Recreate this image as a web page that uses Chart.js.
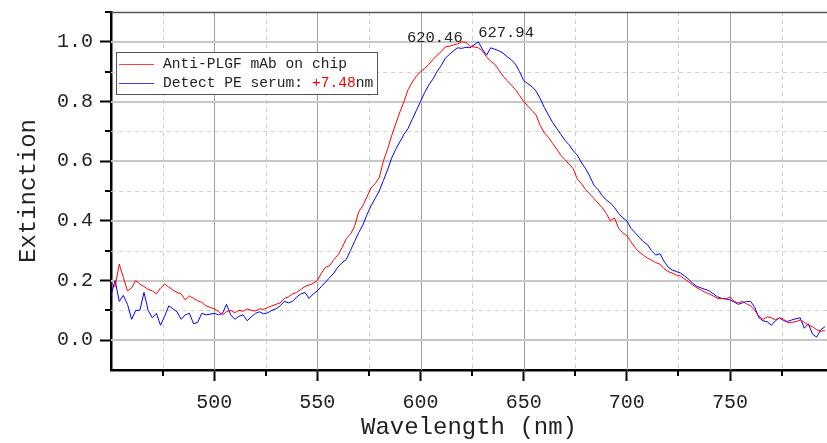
<!DOCTYPE html>
<html>
<head>
<meta charset="utf-8">
<script src="https://cdn.jsdelivr.net/npm/chart.js@4.4.1/dist/chart.umd.min.js"></script>
<style>
  html, body { margin: 0; padding: 0; background: #fff; }
  #wrap { width: 827px; height: 443px; }
</style>
</head>
<body>
<div id="wrap"><canvas id="chart"></canvas></div>
<script>
// wavelength grid (nm)
const wavelengths = [
  450, 452, 454, 456, 458, 460, 462, 464, 466, 468,
  470, 472, 474, 476, 478, 480, 482, 484, 486, 488,
  490, 492, 494, 496, 498, 500, 502, 504, 506, 508,
  510, 512, 514, 516, 518, 520, 522, 524, 526, 528,
  530, 532, 534, 536, 538, 540, 542, 544, 546, 548,
  550, 552, 554, 556, 558, 560, 562, 564, 566, 568,
  570, 572, 574, 576, 578, 580, 582, 584, 586, 588,
  590, 592, 594, 596, 598, 600, 602, 604, 606, 608,
  610, 612, 614, 616, 618, 620, 622, 624, 626, 628,
  630, 632, 634, 636, 638, 640, 642, 644, 646, 648,
  650, 652, 654, 656, 658, 660, 662, 664, 666, 668,
  670, 672, 674, 676, 678, 680, 682, 684, 686, 688,
  690, 692, 694, 696, 698, 700, 702, 704, 706, 708,
  710, 712, 714, 716, 718, 720, 722, 724, 726, 728,
  730, 732, 734, 736, 738, 740, 742, 744, 746, 748,
  750, 752, 754, 756, 758, 760, 762, 764, 766, 768,
  770, 772, 774, 776, 778, 780, 782, 784, 786, 788,
  790, 792, 794, 796
];

// Anti-PLGF mAb on chip (red)
const chipExtinction = [
  0.19, 0.18, 0.255, 0.21, 0.165, 0.175, 0.2, 0.188, 0.18, 0.17,
  0.165, 0.155, 0.175, 0.188, 0.178, 0.168, 0.16, 0.155, 0.135, 0.148,
  0.14, 0.132, 0.127, 0.115, 0.11, 0.105, 0.097, 0.085, 0.095, 0.1,
  0.092, 0.1, 0.097, 0.105, 0.1, 0.098, 0.105, 0.103, 0.11, 0.115,
  0.12, 0.125, 0.14, 0.145, 0.155, 0.16, 0.17, 0.18, 0.185, 0.19,
  0.2, 0.225, 0.245, 0.25, 0.27, 0.285, 0.31, 0.34, 0.355, 0.38,
  0.43, 0.45, 0.48, 0.51, 0.525, 0.545, 0.6, 0.64, 0.685, 0.725,
  0.765, 0.8, 0.84, 0.865, 0.885, 0.9, 0.91, 0.925, 0.94, 0.955,
  0.967, 0.983, 0.985, 0.99, 0.993, 1.0, 0.998, 0.985, 0.983, 0.98,
  0.97, 0.95, 0.935, 0.925, 0.905, 0.885, 0.87, 0.855, 0.84, 0.82,
  0.8, 0.785, 0.77, 0.755, 0.72, 0.695, 0.68, 0.66, 0.64, 0.62,
  0.605, 0.59, 0.575, 0.54, 0.525, 0.505, 0.49, 0.475, 0.46, 0.445,
  0.425, 0.4, 0.41, 0.375, 0.36, 0.35, 0.33, 0.31, 0.295, 0.285,
  0.275, 0.268, 0.26, 0.255, 0.24, 0.23, 0.225, 0.218, 0.215, 0.205,
  0.195, 0.185, 0.175, 0.168, 0.16, 0.155, 0.148, 0.14, 0.14, 0.138,
  0.145, 0.13, 0.125, 0.13, 0.122, 0.115, 0.1, 0.08, 0.07, 0.078,
  0.075, 0.068, 0.075, 0.07, 0.058, 0.06, 0.062, 0.068, 0.06, 0.05,
  0.045, 0.035, 0.03, 0.032
];

// Detect PE serum (blue)
const serumExtinction = [
  0.15, 0.2, 0.13, 0.15, 0.12, 0.07, 0.1, 0.1, 0.16, 0.1,
  0.075, 0.09, 0.05, 0.08, 0.115, 0.105, 0.095, 0.07, 0.085, 0.09,
  0.055, 0.06, 0.09, 0.085, 0.087, 0.09, 0.085, 0.09, 0.12, 0.085,
  0.07, 0.08, 0.085, 0.065, 0.078, 0.09, 0.095, 0.088, 0.092, 0.1,
  0.105, 0.115, 0.13, 0.125, 0.13, 0.145, 0.155, 0.16, 0.14, 0.155,
  0.165, 0.18, 0.195, 0.21, 0.225, 0.245, 0.26, 0.27, 0.3, 0.33,
  0.36, 0.385, 0.42, 0.45, 0.475, 0.5, 0.535, 0.57, 0.61, 0.64,
  0.665, 0.69, 0.71, 0.74, 0.77, 0.8, 0.83, 0.855, 0.875, 0.9,
  0.92, 0.945, 0.958, 0.97, 0.98, 0.978, 0.982, 0.98, 0.99, 1.0,
  0.975, 0.955, 0.98, 0.975, 0.97, 0.962, 0.95, 0.94, 0.925, 0.9,
  0.87, 0.86, 0.85, 0.835, 0.81, 0.78, 0.755, 0.73, 0.71, 0.69,
  0.67, 0.655, 0.635, 0.62, 0.595, 0.575, 0.55, 0.52, 0.505, 0.485,
  0.47, 0.46, 0.445, 0.425, 0.41, 0.4, 0.375, 0.36, 0.345, 0.33,
  0.32, 0.3, 0.285, 0.29, 0.265, 0.245, 0.235, 0.23, 0.225, 0.215,
  0.204, 0.19, 0.18, 0.175, 0.17, 0.165, 0.155, 0.145, 0.14, 0.138,
  0.135, 0.128, 0.12, 0.125, 0.13, 0.13, 0.11, 0.075, 0.065, 0.062,
  0.05, 0.065, 0.075, 0.065, 0.063, 0.068, 0.072, 0.075, 0.04, 0.055,
  0.02, 0.01, 0.035, 0.045
];

const xMajorTicks = [500, 550, 600, 650, 700, 750];
const xMinorTicks = [475, 525, 575, 625, 675, 725, 775];
const yMajorTicks = [0, 0.2, 0.4, 0.6, 0.8, 1.0];
const yMinorTicks = [0.1, 0.3, 0.5, 0.7, 0.9, 1.1];

const seriesLabels = ["Anti-PLGF mAb on chip", "Detect PE serum: "];
const shiftLabel = "+7.48";
const shiftUnit = "nm";
const peakWavelengths = [620.46, 627.94];
const peakLabels = ["620.46", "627.94"];

const RED = "#ff0000";
const BLUE = "#0000ff";
const FONT = "'Liberation Mono', 'DejaVu Sans Mono', monospace";

Chart.defaults.font.family = FONT;
Chart.defaults.color = "#222";

const toPoints = (ys) => wavelengths.map((w, i) => ({ x: w, y: ys[i] }));

// grid, minor ticks, frame, legend and peak labels
const framePlugin = {
  id: "frame",
  beforeDatasetsDraw(chart) {
    const { ctx, chartArea: a, scales: { x, y } } = chart;
    ctx.save();
    ctx.lineWidth = 1;
    ctx.setLineDash([4, 4]);
    ctx.strokeStyle = "#cfcfcf";
    xMinorTicks.forEach((v) => {
      const px = Math.round(x.getPixelForValue(v)) + 0.5;
      ctx.beginPath(); ctx.moveTo(px, a.top); ctx.lineTo(px, a.bottom); ctx.stroke();
    });
    yMinorTicks.forEach((v) => {
      if (v >= 1.1) return;
      const py = Math.round(y.getPixelForValue(v)) + 0.5;
      ctx.beginPath(); ctx.moveTo(a.left, py); ctx.lineTo(a.right, py); ctx.stroke();
    });
    ctx.setLineDash([]);
    ctx.strokeStyle = "#a0a0a0";
    xMajorTicks.forEach((v) => {
      const px = Math.round(x.getPixelForValue(v)) + 0.5;
      ctx.beginPath(); ctx.moveTo(px, a.top); ctx.lineTo(px, a.bottom); ctx.stroke();
    });
    ctx.strokeStyle = "#c8c8c8";
    ctx.lineWidth = 2;
    yMajorTicks.forEach((v) => {
      const py = Math.round(y.getPixelForValue(v));
      ctx.beginPath(); ctx.moveTo(a.left, py); ctx.lineTo(a.right, py); ctx.stroke();
    });
    ctx.restore();
  },
  afterDraw(chart) {
    const { ctx, chartArea: a, scales: { x, y } } = chart;
    ctx.save();
    // top frame line
    ctx.strokeStyle = "#555";
    ctx.lineWidth = 1.5;
    ctx.beginPath(); ctx.moveTo(a.left, a.top + 0.5); ctx.lineTo(a.right, a.top + 0.5); ctx.stroke();

    // minor ticks
    ctx.strokeStyle = "#000";
    ctx.lineWidth = 2;
    xMinorTicks.forEach((v) => {
      const px = Math.round(x.getPixelForValue(v));
      ctx.beginPath(); ctx.moveTo(px, a.bottom); ctx.lineTo(px, a.bottom + 6); ctx.stroke();
    });
    yMinorTicks.forEach((v) => {
      const py = Math.round(y.getPixelForValue(v));
      ctx.beginPath(); ctx.moveTo(a.left - 6, py); ctx.lineTo(a.left, py); ctx.stroke();
    });

    // legend box
    const lx = a.left + 5, ly = a.top + 40, lw = 261, lh = 42;
    ctx.fillStyle = "#fff";
    ctx.fillRect(lx, ly, lw, lh);
    ctx.strokeStyle = "#555";
    ctx.lineWidth = 1;
    ctx.strokeRect(lx + 0.5, ly + 0.5, lw, lh);
    const colors = [RED, BLUE];
    const rows = [ly + 12, ly + 31];
    ctx.font = "14.6px " + FONT;
    ctx.textBaseline = "middle";
    ctx.textAlign = "left";
    chart.data.datasets.forEach((ds, i) => {
      ctx.strokeStyle = colors[i];
      ctx.globalAlpha = 0.75;
      ctx.beginPath(); ctx.moveTo(lx + 3, rows[i] + 0.5); ctx.lineTo(lx + 38, rows[i] + 0.5); ctx.stroke();
      ctx.globalAlpha = 1;
      ctx.fillStyle = "#222";
      ctx.fillText(ds.label, lx + 47, rows[i]);
    });
    let tx = lx + 47 + ctx.measureText(seriesLabels[1]).width;
    ctx.fillStyle = RED;
    ctx.fillText(shiftLabel, tx, rows[1]);
    tx += ctx.measureText(shiftLabel).width;
    ctx.fillStyle = "#222";
    ctx.fillText(shiftUnit, tx, rows[1]);

    // peak labels
    ctx.font = "15.5px " + FONT;
    ctx.textBaseline = "alphabetic";
    ctx.textAlign = "right";
    ctx.fillText(peakLabels[0], x.getPixelForValue(peakWavelengths[0]), y.getPixelForValue(1.0));
    ctx.textAlign = "left";
    ctx.fillText(peakLabels[1], x.getPixelForValue(peakWavelengths[1]), y.getPixelForValue(1.0) - 5);
    ctx.restore();
  },
};

new Chart(document.getElementById("chart"), {
  type: "line",
  data: {
    datasets: [
      { label: seriesLabels[0], data: toPoints(chipExtinction), borderColor: RED },
      { label: seriesLabels[1], data: toPoints(serumExtinction), borderColor: BLUE },
    ],
  },
  options: {
    responsive: true,
    maintainAspectRatio: false,
    animation: false,
    events: [],
    layout: { padding: { top: 12, right: 0, bottom: 0, left: 0 } },
    elements: {
      line: { borderWidth: 1, tension: 0 },
      point: { radius: 0 },
    },
    plugins: {
      legend: { display: false },
      tooltip: { enabled: false },
    },
    scales: {
      x: {
        type: "linear",
        min: 450,
        max: 797,
        afterBuildTicks: (s) => { s.ticks = xMajorTicks.map((v) => ({ value: v })); },
        afterFit: (s) => { s.height = 73; s.paddingLeft = 0; s.paddingRight = 0; },
        grid: { drawOnChartArea: false, drawTicks: true, tickLength: 11, tickWidth: 2, tickColor: "#000" },
        border: { color: "#000", width: 2.5 },
        ticks: { font: { size: 20 }, color: "#222", padding: 10, maxRotation: 0 },
        title: { display: true, text: "Wavelength (nm)", font: { size: 24 }, color: "#222", padding: { top: 0, bottom: 1 } },
      },
      y: {
        min: -0.1,
        max: 1.1,
        afterBuildTicks: (s) => { s.ticks = yMajorTicks.map((v) => ({ value: v })); },
        afterFit: (s) => { s.width = 111; s.paddingTop = 0; s.paddingBottom = 0; },
        grid: { drawOnChartArea: false, drawTicks: true, tickLength: 11, tickWidth: 2, tickColor: "#000" },
        border: { color: "#000", width: 2.5 },
        ticks: { font: { size: 20 }, color: "#222", padding: 7, callback: (v) => Number(v).toFixed(1) },
        title: { display: true, text: "Extinction", font: { size: 24 }, color: "#222", padding: { top: 14, bottom: 0 } },
      },
    },
  },
  plugins: [framePlugin],
});
</script>
</body>
</html>
